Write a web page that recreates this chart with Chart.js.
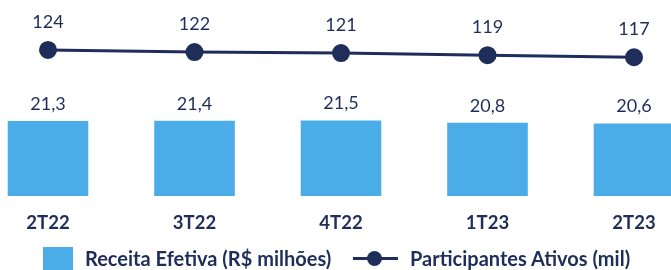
<!DOCTYPE html>
<html>
<head>
<meta charset="utf-8">
<script src="https://cdn.jsdelivr.net/npm/chart.js@4/dist/chart.umd.min.js"></script>
<style>
  body { margin: 0; background: #fff; }
  #wrap { position: relative; width: 671px; height: 270px; overflow: hidden; font-family: Lato, sans-serif; }
  #chart { position: absolute; left: 0; top: 0; }
  .lg { position: absolute; color: #1F2D5A; font-weight: bold; font-size: 20px; line-height: 24px; white-space: nowrap; }
</style>
</head>
<body>
<div id="wrap">
  <canvas id="chart" width="671" height="270"></canvas>
  <div style="position:absolute;left:43px;top:247px;width:30px;height:26px;background:#4BADE8"></div>
  <div class="lg" style="left:85px;top:246px">Receita Efetiva (R$ milhões)</div>
  <div style="position:absolute;left:353px;top:257px;width:45px;height:3px;background:#1F2D5A"></div>
  <div style="position:absolute;left:367px;top:251px;width:15px;height:15px;border-radius:50%;background:#1F2D5A"></div>
  <div class="lg" style="left:410px;top:246px">Participantes Ativos (mil)</div>
</div>
<script>
const categories = ['2T22', '3T22', '4T22', '1T23', '2T23'];
const receita = [21.3, 21.4, 21.5, 20.8, 20.6];
const participantes = [124, 122, 121, 119, 117];

const navy = '#1F2D5A';
const blue = '#4BADE8';

// draw the value labels above bars and points
const valueLabels = {
  id: 'valueLabels',
  afterDatasetsDraw(chart) {
    const ctx = chart.ctx;
    ctx.save();
    ctx.fillStyle = navy;
    ctx.font = '18px Lato';
    ctx.textAlign = 'center';
    ctx.textBaseline = 'middle';
    chart.data.datasets.forEach((ds, i) => {
      const meta = chart.getDatasetMeta(i);
      meta.data.forEach((el, j) => {
        const v = ds.data[j];
        if (ds.type === 'line') {
          ctx.fillText(String(v), el.x, el.y - 28);
        } else {
          ctx.fillText(v.toFixed(1).replace('.', ','), el.x, el.y - 17);
        }
      });
    });
    ctx.restore();
  }
};

new Chart(document.getElementById('chart'), {
  data: {
    labels: categories,
    datasets: [
      {
        type: 'line',
        label: 'Participantes Ativos (mil)',
        data: participantes,
        yAxisID: 'y1',
        borderColor: navy,
        backgroundColor: navy,
        borderWidth: 3,
        pointRadius: 7.5,
        pointHoverRadius: 7.5,
        clip: false,
        order: 0
      },
      {
        type: 'bar',
        label: 'Receita Efetiva (R$ milhões)',
        data: receita,
        yAxisID: 'y',
        backgroundColor: blue,
        categoryPercentage: 0.55,
        barPercentage: 1,
        clip: false,
        order: 1
      }
    ]
  },
  options: {
    responsive: false,
    animation: false,
    layout: { padding: { left: 48, right: 37, top: 30, bottom: 0 } },
    plugins: {
      legend: { display: false },
      tooltip: { enabled: false }
    },
    scales: {
      x: {
        offset: false,
        grid: { display: false },
        border: { display: false },
        ticks: { color: navy, font: { family: 'Lato', size: 18.5, weight: 'bold' }, padding: 8 },
        afterFit(s) { s.height = 74; }
      },
      y: { display: false, min: 0, max: 47.2 },
      y1: { display: false, min: -16.4, max: 143.2 }
    }
  },
  plugins: [valueLabels]
});
</script>
</body>
</html>
